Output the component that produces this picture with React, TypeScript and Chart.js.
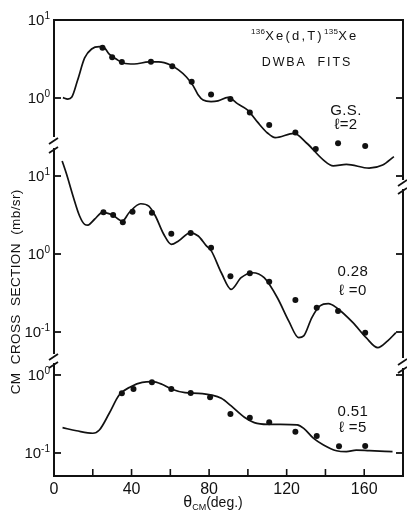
import React, { useEffect, useRef } from "react";
import { Chart, registerables } from "chart.js";

Chart.register(...registerables);

const INK = "#111";
const FONT = '"Liberation Sans", "DejaVu Sans", sans-serif';

// θ_CM axis
const xTickValues = [0, 20, 40, 60, 80, 100, 120, 140, 160, 180];
const xTickLabels = ["0", "", "40", "", "80", "", "120", "", "160", ""];

// Ground state, l = 2 : measured points and DWBA curve (mb/sr)
const gsAngles = [25, 30, 35, 50, 61, 71, 81, 91, 101, 111, 124.5, 135, 146.5, 160.5];
const gsData = [4.41, 3.32, 2.9, 2.92, 2.55, 1.62, 1.11, 0.97, 0.65, 0.45, 0.36, 0.222, 0.263, 0.243];
const gsFitAngles = [4.6, 7.1, 9.2, 12.2, 15.8, 19.4, 23.4, 25.5, 28.5, 32.1, 35.7, 41.3, 48.9, 54, 60.1, 64.2, 68.3, 71.8, 74.4, 76.9, 81, 84.6, 89.7, 94.8, 99.9, 105, 110.1, 114.1, 123.8, 130.4, 139, 144, 150.8, 162.5, 169.5, 175.3];
const gsFit = [1.01, 0.97, 1.03, 1.7, 3.26, 4.25, 4.55, 4.5, 3.66, 3.16, 2.81, 2.73, 2.9, 2.9, 2.65, 2.29, 1.86, 1.43, 1.09, 0.94, 0.9, 0.92, 1.02, 0.84, 0.7, 0.49, 0.356, 0.31, 0.352, 0.263, 0.16, 0.135, 0.141, 0.126, 0.138, 0.177];

// 0.28 MeV, l = 0
const e028Angles = [25.5, 30.5, 35.5, 40.5, 50.5, 60.5, 70.5, 81, 91, 101, 111, 124.5, 135.5, 146.5, 160.5];
const e028Data = [3.42, 3.16, 2.55, 3.49, 3.38, 1.82, 1.86, 1.2, 0.52, 0.565, 0.44, 0.257, 0.205, 0.186, 0.098];
const e028FitAngles = [4.2, 6.5, 9.8, 13.2, 15.8, 17.5, 20.9, 25.1, 30.2, 35.3, 38.7, 44.7, 48.9, 52.3, 56.6, 60.5, 64.2, 70.2, 74.4, 78.6, 81.2, 86.3, 91.4, 96.5, 102.4, 108.4, 115.2, 121.1, 126.2, 128.8, 133, 137.2, 141.5, 145.7, 154.2, 161, 167, 172.1, 176.3];
const e028Fit = [15.6, 10.5, 5.54, 3.07, 2.4, 2.35, 2.79, 3.42, 3.16, 2.65, 3.38, 4.41, 4.12, 3.07, 1.79, 1.33, 1.47, 1.87, 1.7, 1.27, 1.09, 0.575, 0.352, 0.497, 0.575, 0.497, 0.275, 0.138, 0.0845, 0.089, 0.153, 0.216, 0.231, 0.205, 0.132, 0.0845, 0.063, 0.077, 0.098];

// 0.51 MeV, l = 5
const e051Angles = [35, 41, 50.5, 60.5, 70.5, 80.5, 91, 101, 111, 124.5, 135.5, 147, 160.5];
const e051Data = [0.582, 0.662, 0.806, 0.662, 0.588, 0.517, 0.316, 0.284, 0.248, 0.187, 0.165, 0.122, 0.123];
const e051FitAngles = [4.4, 11.6, 20, 23.4, 28.5, 33.6, 39.6, 45.5, 50.6, 55.7, 60.8, 67.6, 74.4, 81.2, 86.3, 91.4, 98.2, 103.3, 110.1, 116.8, 125.4, 128.8, 133.9, 139, 145.7, 150.8, 155.9, 162.7, 174.6];
const e051Fit = [0.211, 0.193, 0.179, 0.197, 0.323, 0.554, 0.708, 0.806, 0.82, 0.76, 0.656, 0.593, 0.582, 0.554, 0.503, 0.401, 0.287, 0.245, 0.233, 0.233, 0.229, 0.207, 0.154, 0.127, 0.107, 0.104, 0.109, 0.107, 0.104];

// decade tick values for each panel (log axes)
const gsTicks = [10, 1];
const e028Ticks = [10, 1, 0.1];
const e051Ticks = [1, 0.1];
const gsRightTicks = [1, 0.1];
const e028RightTicks = [1, 0.1];
const e051RightTicks = [1, 0.1];

// every panel's log axis spans the same number of decades over the full plot height
const SPAN = 5.846;
const gsMaxLog = 1;
const e028MaxLog = 3;
const e051MaxLog = 4.551;

const pts = (xs: number[], ys: number[]) => xs.map((x, i) => ({ x, y: ys[i] }));

type Run = { text: string; size: number; rise?: number; spacing?: number };

function runWidth(ctx: CanvasRenderingContext2D, r: Run) {
  ctx.font = `${r.size}px ${FONT}`;
  let w = 0;
  for (const ch of r.text) w += ctx.measureText(ch).width + (r.spacing ?? 0);
  return w - (r.spacing ?? 0);
}

function drawRuns(
  ctx: CanvasRenderingContext2D,
  runs: Run[],
  x0: number,
  baseline: number,
  align: "left" | "center" | "right"
) {
  const total = runs.reduce((s, r) => s + runWidth(ctx, r), 0);
  let x = align === "center" ? x0 - total / 2 : align === "right" ? x0 - total : x0;
  ctx.textAlign = "left";
  ctx.textBaseline = "alphabetic";
  for (const r of runs) {
    ctx.font = `${r.size}px ${FONT}`;
    for (const ch of r.text) {
      ctx.fillText(ch, x, baseline - (r.rise ?? 0));
      x += ctx.measureText(ch).width + (r.spacing ?? 0);
    }
  }
}

const expOf = (v: number) => String(Math.round(Math.log10(v)));

const framePlugin = {
  id: "brokenFrame",
  afterDraw(chart: any) {
    const { ctx, chartArea: a, scales } = chart;
    const L = a.left;
    const R = a.right;
    const T = a.top;
    const B = a.bottom;
    const sx = scales.x;
    const yT = scales.yGs;
    const yM = scales.yE028;
    const yB = scales.yE051;

    ctx.save();
    ctx.strokeStyle = INK;
    ctx.fillStyle = INK;
    ctx.lineWidth = 2;
    ctx.lineCap = "butt";

    const seg = (x1: number, y1: number, x2: number, y2: number) => {
      ctx.beginPath();
      ctx.moveTo(x1, y1);
      ctx.lineTo(x2, y2);
      ctx.stroke();
    };
    const slash = (x: number, y: number) => {
      ctx.save();
      ctx.lineWidth = 1.8;
      seg(x - 5, y + 3, x + 4, y - 3);
      ctx.restore();
    };

    // top and bottom edges
    seg(L - 1, T, R + 1, T);
    seg(L - 1, B, R + 1, B);

    // left edge with two breaks
    seg(L, T, L, T + 117);
    slash(L, T + 121);
    slash(L, T + 130);
    seg(L, T + 128, L, T + 334);
    slash(L, T + 337);
    slash(L, T + 345);
    seg(L, T + 343, L, B);

    // right edge with two breaks
    seg(R, T, R, T + 160);
    slash(R, T + 163);
    slash(R, T + 171);
    seg(R, T + 169, R, T + 338);
    slash(R, T + 342);
    slash(R, T + 350);
    seg(R, T + 348, R, B);

    // x ticks, pointing inward
    ctx.lineWidth = 1.6;
    for (const v of xTickValues) {
      if (v === 0 || v === 180) continue;
      const px = sx.getPixelForValue(v);
      seg(px, B, px, B - 7);
    }

    // y ticks and labels
    const leftSets: [any, number[]][] = [
      [yT, gsTicks],
      [yM, e028Ticks],
      [yB, e051Ticks],
    ];
    const rightSets: [any, number[]][] = [
      [yT, gsRightTicks],
      [yM, e028RightTicks],
      [yB, e051RightTicks],
    ];
    ctx.lineWidth = 1.8;
    for (const [sc, ticks] of leftSets) {
      for (const v of ticks) {
        const py = sc.getPixelForValue(v);
        seg(L, py, L + 7, py);
        drawRuns(
          ctx,
          [
            { text: "10", size: 15 },
            { text: expOf(v), size: 10, rise: 6 },
          ],
          L - 4,
          py + 5,
          "right"
        );
      }
    }
    for (const [sc, ticks] of rightSets) {
      for (const v of ticks) {
        const py = sc.getPixelForValue(v);
        seg(R, py, R - 7, py);
      }
    }

    // reaction heading
    drawRuns(
      ctx,
      [
        { text: "136", size: 8, rise: 6, spacing: 0.3 },
        { text: "Xe(d,T)", size: 13, spacing: 2.2 },
        { text: "135", size: 8, rise: 6, spacing: 0.3 },
        { text: "Xe", size: 13, spacing: 2.2 },
      ],
      sx.getPixelForValue(128),
      yT.getPixelForValue(5.6),
      "center"
    );
    drawRuns(
      ctx,
      [{ text: "DWBA  FITS", size: 12.5, spacing: 1.9 }],
      sx.getPixelForValue(130),
      yT.getPixelForValue(2.6),
      "center"
    );

    // state labels
    const stateLabel = (sc: any, line1: string, line2: string, deg: number, v1: number, v2: number) => {
      drawRuns(ctx, [{ text: line1, size: 15, spacing: 0.4 }], sx.getPixelForValue(deg), sc.getPixelForValue(v1), "center");
      drawRuns(ctx, [{ text: line2, size: 15, spacing: 0.4 }], sx.getPixelForValue(deg), sc.getPixelForValue(v2), "center");
    };
    stateLabel(yT, "G.S.", "ℓ=2", 150.5, 0.6, 0.4);
    stateLabel(yM, "0.28", "ℓ =0", 154, 0.52, 0.3);
    stateLabel(yB, "0.51", "ℓ =5", 154, 0.3, 0.185);

    // axis titles
    ctx.save();
    ctx.translate(L - 39, (T + B) / 2 + 44);
    ctx.rotate(-Math.PI / 2);
    drawRuns(ctx, [{ text: "CM  CROSS  SECTION  (mb/sr)", size: 13.5, spacing: 0.4 }], 0, 5, "center");
    ctx.restore();

    drawRuns(
      ctx,
      [
        { text: "θ", size: 16 },
        { text: "CM", size: 9, rise: -3 },
        { text: "(deg.)", size: 14 },
      ],
      sx.getPixelForValue(82),
      B + 31,
      "center"
    );

    ctx.restore();
  },
};

function logAxis(maxLog: number) {
  const min = Math.pow(10, maxLog - SPAN);
  const max = Math.pow(10, maxLog);
  return {
    type: "logarithmic" as const,
    display: false,
    bounds: "data" as const,
    min,
    max,
    afterBuildTicks(scale: any) {
      scale.min = min;
      scale.max = max;
    },
  };
}

export default function App() {
  const canvasRef = useRef<HTMLCanvasElement | null>(null);

  useEffect(() => {
    const canvas = canvasRef.current;
    if (!canvas) return;

    const curve = (data: { x: number; y: number }[], axis: string) => ({
      type: "line" as const,
      data,
      yAxisID: axis,
      borderColor: INK,
      borderWidth: 1.7,
      pointRadius: 0,
      fill: false,
      cubicInterpolationMode: "monotone" as const,
    });
    const dots = (data: { x: number; y: number }[], axis: string) => ({
      type: "line" as const,
      data,
      yAxisID: axis,
      showLine: false,
      pointRadius: 3,
      pointBorderWidth: 0,
      pointBackgroundColor: INK,
      borderColor: INK,
    });

    const chart = new Chart(canvas, {
      type: "line",
      data: {
        datasets: [
          curve(pts(gsFitAngles, gsFit), "yGs"),
          dots(pts(gsAngles, gsData), "yGs"),
          curve(pts(e028FitAngles, e028Fit), "yE028"),
          dots(pts(e028Angles, e028Data), "yE028"),
          curve(pts(e051FitAngles, e051Fit), "yE051"),
          dots(pts(e051Angles, e051Data), "yE051"),
        ] as any,
      },
      options: {
        responsive: false,
        animation: false,
        events: [],
        layout: { padding: { left: 54, right: 1, top: 20, bottom: 0 } },
        plugins: { legend: { display: false }, tooltip: { enabled: false } },
        scales: {
          x: {
            type: "linear",
            min: 0,
            max: 180,
            grid: { display: false, drawTicks: false },
            border: { display: false },
            afterBuildTicks(scale: any) {
              scale.ticks = xTickValues.map((value) => ({ value }));
            },
            afterFit(scale: any) {
              scale.height = 36;
            },
            ticks: {
              autoSkip: false,
              maxRotation: 0,
              padding: 4,
              color: INK,
              font: { family: FONT, size: 16 },
              callback: (_v: any, i: number) => xTickLabels[i],
            },
          },
          yGs: logAxis(gsMaxLog),
          yE028: logAxis(e028MaxLog),
          yE051: logAxis(e051MaxLog),
        } as any,
      },
      plugins: [framePlugin],
    });

    return () => chart.destroy();
  }, []);

  return (
    <div style={{ position: "absolute", left: 0, top: 0, width: 407, height: 512, background: "#fff" }}>
      <canvas ref={canvasRef} width={407} height={512} />
    </div>
  );
}
